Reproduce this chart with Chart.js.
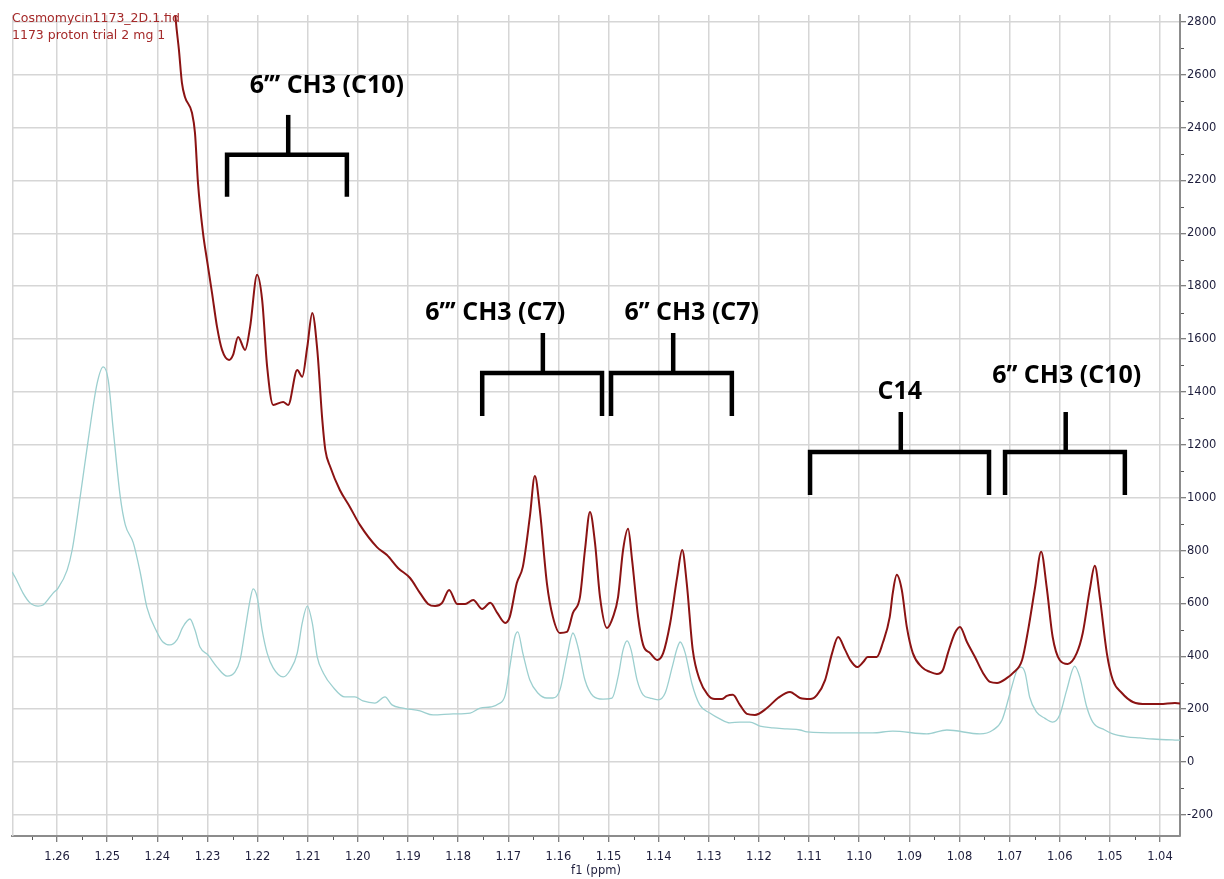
<!DOCTYPE html>
<html>
<head>
<meta charset="utf-8">
<title>1173 proton trial 2 mg 1</title>
<script src="https://cdn.jsdelivr.net/npm/chart.js@4.4.1/dist/chart.umd.min.js"></script>
<style>
  html, body { margin: 0; padding: 0; background: #fff; }
  #wrap { width: 1224px; height: 879px; }
</style>
</head>
<body>
<div id="wrap"><canvas id="spectre" width="1224" height="879"></canvas></div>
<script>
// ---- spectrum 1 : Cosmomycin1173 (dark red) ----
const redPpm = [1.2375, 1.2363, 1.2357, 1.2351, 1.2345, 1.2331, 1.2325, 1.2319, 1.2309, 1.2301,
  1.2291, 1.2281, 1.2271, 1.2257, 1.2249, 1.2239, 1.2225, 1.2215, 1.2201, 1.2191,
  1.2181, 1.2169, 1.2149, 1.2139, 1.2121, 1.2111, 1.2101, 1.2091, 1.2081, 1.2071,
  1.2065, 1.2055, 1.2036, 1.2016, 1.1996, 1.1962, 1.1942, 1.1920, 1.1896, 1.1876,
  1.1860, 1.1846, 1.1832, 1.1818, 1.1802, 1.1786, 1.1770, 1.1752, 1.1736, 1.1722,
  1.1706, 1.1697, 1.1683, 1.1671, 1.1657, 1.1647, 1.1637, 1.1623, 1.1611, 1.1597,
  1.1583, 1.1571, 1.1557, 1.1547, 1.1537, 1.1527, 1.1517, 1.1503, 1.1491, 1.1481,
  1.1471, 1.1461, 1.1453, 1.1441, 1.1431, 1.1417, 1.1403, 1.1391, 1.1377, 1.1363,
  1.1353, 1.1344, 1.1332, 1.1318, 1.1302, 1.1288, 1.1274, 1.1264, 1.1252, 1.1238,
  1.1224, 1.1208, 1.1184, 1.1162, 1.1138, 1.1118, 1.1098, 1.1084, 1.1068, 1.1054,
  1.1042, 1.1028, 1.1018, 1.1004, 1.0992, 1.0983, 1.0965, 1.0953, 1.0939, 1.0933,
  1.0925, 1.0915, 1.0905, 1.0893, 1.0875, 1.0859, 1.0845, 1.0833, 1.0823, 1.0809,
  1.0799, 1.0785, 1.0769, 1.0753, 1.0739, 1.0725, 1.0705, 1.0693, 1.0675, 1.0663,
  1.0649, 1.0637, 1.0626, 1.0614, 1.0600, 1.0584, 1.0566, 1.0554, 1.0540, 1.0530,
  1.0520, 1.0506, 1.0494, 1.0476, 1.0454, 1.0426, 1.0400, 1.0370, 1.0355];
const redInt = [3100, 2800, 2694, 2569, 2516, 2456, 2380, 2191, 2002, 1899,
  1775, 1646, 1559, 1521, 1540, 1608, 1559, 1646, 1843, 1748,
  1495, 1351, 1362, 1351, 1483, 1457, 1570, 1699, 1559, 1294,
  1181, 1116, 1029, 965, 897, 813, 783, 734, 696, 639,
  598, 590, 602, 651, 598, 598, 613, 579, 602, 564,
  526, 549, 677, 738, 927, 1082, 953, 677, 549, 488,
  492, 564, 624, 802, 946, 829, 624, 507, 549, 624,
  802, 882, 764, 549, 443, 412, 386, 412, 526, 700,
  802, 677, 424, 310, 254, 238, 238, 250, 254, 216,
  182, 178, 204, 242, 265, 242, 238, 254, 310, 412,
  473, 424, 386, 359, 378, 397, 397, 450, 549, 639,
  708, 651, 511, 412, 359, 341, 333, 348, 412, 488,
  511, 454, 397, 337, 303, 299, 318, 337, 386, 499,
  662, 795, 662, 473, 386, 371, 412, 488, 651, 742,
  624, 412, 310, 261, 227, 219, 219, 223, 220];

// ---- spectrum 2 : reference (light teal) ----
const tealPpm = [1.2690, 1.2684, 1.2668, 1.2654, 1.2638, 1.2628, 1.2608, 1.2598, 1.2580, 1.2570,
  1.2554, 1.2538, 1.2520, 1.2508, 1.2498, 1.2488, 1.2474, 1.2464, 1.2448, 1.2434,
  1.2421, 1.2401, 1.2389, 1.2375, 1.2361, 1.2349, 1.2335, 1.2325, 1.2315, 1.2299,
  1.2281, 1.2261, 1.2245, 1.2235, 1.2225, 1.2215, 1.2209, 1.2201, 1.2191, 1.2181,
  1.2169, 1.2149, 1.2135, 1.2121, 1.2111, 1.2101, 1.2091, 1.2081, 1.2069, 1.2050,
  1.2026, 1.2006, 1.1990, 1.1966, 1.1946, 1.1932, 1.1910, 1.1876, 1.1850, 1.1810,
  1.1776, 1.1756, 1.1736, 1.1720, 1.1706, 1.1697, 1.1687, 1.1681, 1.1671, 1.1657,
  1.1641, 1.1623, 1.1611, 1.1597, 1.1583, 1.1571, 1.1561, 1.1547, 1.1531, 1.1511,
  1.1493, 1.1481, 1.1471, 1.1463, 1.1455, 1.1443, 1.1431, 1.1417, 1.1401, 1.1387,
  1.1373, 1.1363, 1.1357, 1.1347, 1.1334, 1.1318, 1.1298, 1.1278, 1.1258, 1.1238,
  1.1218, 1.1198, 1.1172, 1.1144, 1.1118, 1.1104, 1.1038, 1.0973, 1.0933, 1.0865,
  1.0825, 1.0759, 1.0733, 1.0715, 1.0699, 1.0685, 1.0677, 1.0669, 1.0660, 1.0646,
  1.0630, 1.0614, 1.0600, 1.0586, 1.0570, 1.0560, 1.0546, 1.0534, 1.0510, 1.0494,
  1.0466, 1.0440, 1.0414, 1.0370, 1.0355];
const tealInt = [719, 700, 639, 602, 590, 594, 639, 658, 726, 802,
  1003, 1218, 1434, 1495, 1445, 1256, 1003, 897, 829, 715,
  586, 492, 454, 443, 462, 511, 541, 499, 435, 405,
  359, 325, 341, 386, 499, 613, 655, 624, 499, 412,
  356, 322, 348, 412, 526, 590, 526, 397, 337, 284,
  246, 246, 231, 223, 246, 216, 204, 193, 178, 182,
  185, 204, 208, 219, 254, 359, 473, 492, 412, 310,
  261, 242, 242, 272, 397, 488, 435, 310, 250, 238,
  242, 322, 424, 458, 424, 310, 254, 242, 235, 261,
  359, 431, 454, 412, 299, 216, 185, 163, 148, 151,
  151, 136, 129, 125, 121, 114, 110, 110, 117, 106,
  121, 106, 121, 159, 261, 348, 359, 337, 246, 189,
  166, 151, 178, 272, 363, 322, 208, 151, 121, 106,
  95, 91, 87, 83, 82];

// ---- annotations (ppm / intensity) ----
const labelText = ['6\u2019\u2019\u2019 CH3 (C10)', '6\u2019\u2019\u2019 CH3 (C7)', '6\u2019\u2019 CH3 (C7)', 'C14', '6\u2019\u2019 CH3 (C10)'];
const labelPpm = [1.2062, 1.1726, 1.1334, 1.0919, 1.0586];
const labelY = [2558, 1699, 1699, 1400, 1460];
const bracketLeft = [1.2261, 1.1752, 1.1495, 1.1098, 1.0709];
const bracketRight = [1.2022, 1.1513, 1.1254, 1.0741, 1.0470];
const bracketStem = [1.2139, 1.1631, 1.1371, 1.0917, 1.0588];
const bracketTop = [2448, 1623, 1623, 1324, 1324];
const bracketBar = [2297, 1472, 1472, 1173, 1173];
const bracketFoot = [2138, 1309, 1309, 1010, 1010];

const captions = ['Cosmomycin1173_2D.1.fid', '1173 proton trial 2 mg 1'];

const xMin = 1.0360, xMax = 1.2690;
const yMin = -280, yMax = 2826;

const gridColor = '#d6d6d6';
const tickTextColor = '#1e1e3c';
const axisColor = '#8c8c8c';

function toPoints(xs, ys) {
    let pts = [];
    for (let i = 0; i < xs.length; i++) {
        pts.push({ x: xs[i], y: ys[i] });
    }
    return pts;
}

const decor = {
    id: 'decor',
    beforeDatasetsDraw(chart) {
        let ctx = chart.ctx, a = chart.chartArea;
        ctx.save();
        ctx.strokeStyle = gridColor;
        ctx.lineWidth = 1.5;
        ctx.beginPath();
        ctx.moveTo(a.left + 0.75, a.top);
        ctx.lineTo(a.left + 0.75, a.bottom);
        ctx.stroke();
        ctx.restore();
    },
    afterDatasetsDraw(chart) {
        let ctx = chart.ctx;
        let xs = chart.scales.x, ys = chart.scales.y;
        ctx.save();
        ctx.strokeStyle = '#000';
        ctx.lineWidth = 4.5;
        ctx.lineJoin = 'miter';
        ctx.lineCap = 'butt';
        for (let i = 0; i < bracketLeft.length; i++) {
            let l = xs.getPixelForValue(bracketLeft[i]);
            let r = xs.getPixelForValue(bracketRight[i]);
            let s = xs.getPixelForValue(bracketStem[i]);
            let bar = ys.getPixelForValue(bracketBar[i]);
            let foot = ys.getPixelForValue(bracketFoot[i]);
            let top = ys.getPixelForValue(bracketTop[i]);
            ctx.beginPath();
            ctx.moveTo(l, foot);
            ctx.lineTo(l, bar);
            ctx.lineTo(r, bar);
            ctx.lineTo(r, foot);
            ctx.stroke();
            ctx.beginPath();
            ctx.moveTo(s, bar);
            ctx.lineTo(s, top);
            ctx.stroke();
        }
        ctx.fillStyle = '#000';
        ctx.font = 'bold 25px "Open Sans"';
        ctx.textAlign = 'center';
        ctx.textBaseline = 'middle';
        for (let i = 0; i < labelText.length; i++) {
            ctx.fillText(labelText[i], xs.getPixelForValue(labelPpm[i]), ys.getPixelForValue(labelY[i]));
        }
        ctx.restore();
    },
    afterDraw(chart) {
        let ctx = chart.ctx, a = chart.chartArea;
        let xs = chart.scales.x, ys = chart.scales.y;
        ctx.save();
        // minor ticks
        ctx.strokeStyle = '#555';
        ctx.lineWidth = 1;
        ctx.beginPath();
        for (let i = 0; i < 24; i++) {
            let v = 1.035 + 0.01 * i;
            if (v <= xMin || v >= xMax) continue;
            let px = Math.round(xs.getPixelForValue(v)) + 0.5;
            ctx.moveTo(px, a.bottom + 1);
            ctx.lineTo(px, a.bottom + 4);
        }
        for (let v = -100; v < yMax; v += 200) {
            let py = Math.round(ys.getPixelForValue(v)) + 0.5;
            ctx.moveTo(a.right + 1, py);
            ctx.lineTo(a.right + 4, py);
        }
        ctx.stroke();

        // axis title
        ctx.fillStyle = tickTextColor;
        ctx.font = '11.5px "DejaVu Sans"';
        ctx.textAlign = 'center';
        ctx.textBaseline = 'alphabetic';
        ctx.fillText('f1 (ppm)', (a.left + a.right) / 2, 874);

        // file captions, top left
        ctx.fillStyle = '#a52a2a';
        ctx.font = '12.5px "DejaVu Sans"';
        ctx.textAlign = 'left';
        ctx.fillText(captions[1], 12, 38.5);
        ctx.beginPath();
        ctx.rect(0, 13, 400, 20);
        ctx.clip();
        ctx.fillText(captions[0], 12, 21.5);
        ctx.restore();
    }
};

let ctx = document.getElementById('spectre').getContext('2d');
let spectre = new Chart(ctx, {
    type: 'line',
    data: {
        datasets: [{
            label: captions[0],
            data: toPoints(redPpm, redInt),
            borderColor: '#8b1313',
            borderWidth: 2,
            pointRadius: 0,
            fill: false,
            cubicInterpolationMode: 'monotone'
        }, {
            label: captions[1],
            data: toPoints(tealPpm, tealInt),
            borderColor: '#9ccfcf',
            borderWidth: 1.3,
            pointRadius: 0,
            fill: false,
            cubicInterpolationMode: 'monotone'
        }]
    },
    options: {
        responsive: false,
        animation: false,
        devicePixelRatio: 1,
        layout: { padding: { left: 12, top: 15, right: 0, bottom: 0 } },
        plugins: {
            legend: { display: false },
            tooltip: { enabled: false }
        },
        scales: {
            x: {
                type: 'linear',
                reverse: true,
                min: xMin,
                max: xMax,
                afterFit: function(scale) { scale.height = 43; },
                ticks: {
                    stepSize: 0.01,
                    includeBounds: false,
                    autoSkip: false,
                    maxRotation: 0,
                    padding: 8,
                    color: tickTextColor,
                    font: { family: 'DejaVu Sans', size: 11.5 },
                    callback: function(v) { return v.toFixed(2); }
                },
                grid: { color: gridColor, lineWidth: 1.5, tickLength: 6, tickColor: '#555', tickWidth: 1 },
                border: { display: true, color: axisColor, width: 2 }
            },
            y: {
                position: 'right',
                min: yMin,
                max: yMax,
                afterFit: function(scale) { scale.width = 44; },
                ticks: {
                    stepSize: 200,
                    includeBounds: false,
                    padding: 1,
                    color: tickTextColor,
                    font: { family: 'DejaVu Sans', size: 11.5 },
                    callback: function(v) { return String(v); }
                },
                grid: { color: gridColor, lineWidth: 1.5, tickLength: 6, tickColor: '#555', tickWidth: 1 },
                border: { display: true, color: axisColor, width: 2 }
            }
        }
    },
    plugins: [decor]
});
</script>
</body>
</html>
